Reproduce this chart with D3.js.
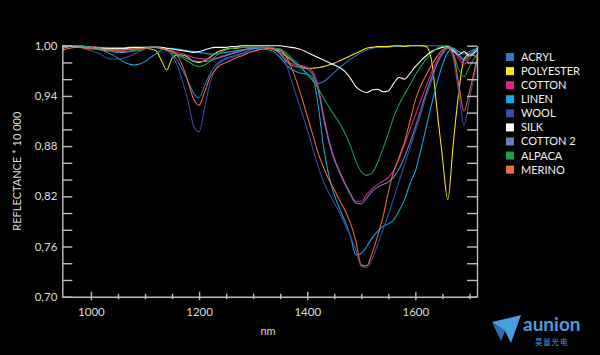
<!DOCTYPE html>
<html><head><meta charset="utf-8">
<script src="https://cdn.jsdelivr.net/npm/d3@7"></script>
<style>html,body{margin:0;padding:0;background:#000;}svg{display:block;font-family:Lato,"Noto Sans",sans-serif;}</style>
</head><body><svg id="c" width="600" height="355"></svg>
<script>
const wavelengths = [947,960,970,980,990,1000,1010,1020,1030,1040,
1050,1060,1070,1080,1090,1100,1110,1120,1130,1140,
1150,1160,1170,1180,1190,1200,1210,1220,1230,1240,
1250,1260,1270,1280,1290,1300,1310,1320,1330,1340,
1350,1360,1370,1380,1390,1400,1410,1420,1430,1440,
1450,1460,1470,1480,1490,1500,1510,1520,1530,1540,
1550,1560,1570,1580,1590,1600,1610,1620,1630,1640,
1650,1660,1670,1680,1690,1700,1714];

const seriesNames = ["ACRYL","POLYESTER","COTTON","LINEN","WOOL","SILK","COTTON 2","ALPACA","MERINO"];
const seriesColors = ["#2f78c0","#f5ea14","#e2238c","#14a9e6","#3b4ea3","#ffffff","#6b7fc4","#18a34a","#f26a3c"];

const acryl = [0.998,0.999,1.0,1.0,0.999,0.999,0.998,0.998,0.997,0.997,
0.997,0.997,0.996,0.996,0.997,0.997,0.998,0.998,0.997,0.994,
0.99,0.982,0.97,0.957,0.943,0.938,0.952,0.966,0.976,0.982,
0.985,0.987,0.989,0.991,0.994,0.996,0.997,0.998,0.998,0.997,
0.996,0.992,0.986,0.98,0.974,0.966,0.959,0.955,0.957,0.962,
0.968,0.974,0.979,0.984,0.988,0.992,0.995,0.997,0.998,0.998,
0.998,0.999,0.999,1.0,1.0,1.0,1.0,1.0,1.0,1.0,
1.0,1.0,0.997,0.99,0.984,0.99,0.996];

const polyester = [0.997,0.999,1.0,1.0,0.999,0.998,0.998,0.997,0.997,0.997,
0.997,0.997,0.998,0.998,0.997,0.997,0.996,0.994,0.983,0.971,
0.985,0.989,0.989,0.986,0.981,0.98,0.982,0.986,0.991,0.994,
0.996,0.997,0.997,0.998,0.998,0.998,0.998,0.997,0.997,0.995,
0.993,0.988,0.983,0.978,0.975,0.973,0.973,0.974,0.975,0.977,
0.979,0.982,0.985,0.988,0.991,0.994,0.997,0.998,0.999,0.999,
0.999,1.0,1.0,0.999,1.0,1.0,1.0,0.999,0.982,0.924,
0.867,0.816,0.882,0.943,0.984,0.99,0.986];

const cotton = [0.998,0.999,1.0,1.0,0.999,0.999,0.998,0.997,0.996,0.995,
0.995,0.995,0.995,0.996,0.997,0.998,0.998,0.998,0.997,0.996,
0.994,0.992,0.99,0.988,0.986,0.985,0.984,0.984,0.985,0.987,
0.989,0.991,0.993,0.995,0.996,0.997,0.998,0.998,0.997,0.995,
0.991,0.984,0.979,0.977,0.976,0.974,0.969,0.952,0.918,0.888,
0.866,0.85,0.836,0.823,0.814,0.814,0.822,0.829,0.834,0.838,
0.843,0.851,0.865,0.882,0.9,0.917,0.935,0.952,0.968,0.982,
0.993,0.998,0.995,0.985,0.978,0.985,0.995];

const linen = [0.999,1.0,1.0,0.999,0.999,0.998,0.997,0.995,0.992,0.989,
0.985,0.981,0.978,0.977,0.978,0.981,0.986,0.99,0.995,0.997,
0.997,0.996,0.995,0.994,0.993,0.992,0.991,0.99,0.99,0.991,
0.992,0.993,0.994,0.995,0.996,0.997,0.997,0.996,0.995,0.992,
0.986,0.978,0.972,0.969,0.967,0.966,0.962,0.93,0.88,0.845,
0.822,0.805,0.79,0.772,0.75,0.752,0.76,0.77,0.778,0.784,
0.787,0.792,0.803,0.816,0.835,0.85,0.875,0.902,0.93,0.955,
0.977,0.992,0.997,0.993,0.99,0.993,0.997];

const wool = [0.999,1.0,1.0,0.998,0.996,0.994,0.992,0.989,0.985,0.984,
0.984,0.985,0.987,0.99,0.993,0.996,0.998,0.999,0.998,0.996,
0.988,0.976,0.956,0.933,0.904,0.897,0.925,0.955,0.972,0.98,
0.984,0.986,0.988,0.99,0.992,0.994,0.996,0.997,0.998,0.997,
0.994,0.98,0.96,0.94,0.92,0.9,0.878,0.856,0.838,0.824,
0.812,0.8,0.786,0.772,0.756,0.736,0.735,0.745,0.762,0.78,
0.798,0.818,0.838,0.858,0.878,0.898,0.918,0.94,0.958,0.978,
0.992,0.997,0.985,0.945,0.905,0.935,0.98];

const silk = [1.0,1.0,0.999,0.999,0.998,0.998,0.997,0.997,0.997,0.997,
0.997,0.997,0.997,0.998,0.998,0.998,0.998,0.998,0.998,0.997,
0.996,0.995,0.994,0.993,0.992,0.993,0.995,0.997,0.998,0.998,
0.998,0.999,0.999,1.0,1.0,1.0,1.0,1.0,1.0,1.0,
1.0,0.999,0.998,0.997,0.995,0.992,0.989,0.986,0.983,0.98,
0.977,0.974,0.969,0.961,0.951,0.946,0.944,0.947,0.948,0.945,
0.946,0.955,0.962,0.96,0.967,0.975,0.982,0.988,0.993,0.996,
0.998,0.999,0.994,0.989,0.993,0.988,0.995];

const cotton2 = [0.997,0.999,1.0,0.999,0.998,0.997,0.996,0.995,0.994,0.993,
0.992,0.992,0.993,0.994,0.995,0.997,0.998,0.998,0.997,0.995,
0.992,0.99,0.987,0.984,0.982,0.981,0.981,0.982,0.984,0.986,
0.988,0.99,0.992,0.994,0.996,0.997,0.998,0.998,0.997,0.995,
0.99,0.982,0.977,0.975,0.974,0.972,0.966,0.948,0.914,0.885,
0.864,0.848,0.834,0.822,0.812,0.811,0.818,0.826,0.831,0.834,
0.837,0.843,0.853,0.867,0.884,0.903,0.923,0.944,0.962,0.978,
0.99,0.997,0.996,0.988,0.982,0.988,0.996];

const alpaca = [0.999,1.0,1.0,1.0,0.999,0.998,0.997,0.996,0.995,0.994,
0.993,0.993,0.993,0.994,0.995,0.997,0.998,0.998,0.997,0.995,
0.992,0.988,0.985,0.981,0.977,0.975,0.977,0.981,0.987,0.992,
0.995,0.997,0.998,0.998,0.998,0.998,0.998,0.998,0.997,0.996,
0.996,0.99,0.984,0.978,0.972,0.966,0.958,0.949,0.938,0.927,
0.917,0.907,0.895,0.88,0.862,0.849,0.845,0.848,0.86,0.877,
0.895,0.915,0.93,0.942,0.953,0.965,0.975,0.984,0.991,0.997,
0.999,0.998,0.99,0.972,0.963,0.975,0.99];

const merino = [0.995,0.997,0.998,0.998,0.997,0.996,0.996,0.995,0.995,0.995,
0.995,0.995,0.996,0.996,0.997,0.997,0.998,0.998,0.997,0.995,
0.994,0.988,0.975,0.956,0.936,0.929,0.944,0.962,0.971,0.977,
0.98,0.983,0.986,0.988,0.991,0.993,0.995,0.996,0.997,0.996,
0.995,0.988,0.975,0.958,0.938,0.916,0.894,0.872,0.855,0.84,
0.828,0.815,0.803,0.788,0.766,0.738,0.737,0.752,0.772,0.795,
0.825,0.85,0.867,0.885,0.91,0.935,0.952,0.965,0.977,0.987,
0.995,0.998,0.99,0.955,0.922,0.945,0.985];

const seriesValues = [acryl, polyester, cotton, linen, wool, silk, cotton2, alpaca, merino];

const yMajorTicks = [1.00, 0.94, 0.88, 0.82, 0.76, 0.70];
const yTickLabels = ["1,00","0,94","0,88","0,82","0,76","0,70"];
const yMinorTicks = [1.00,0.98,0.96,0.94,0.92,0.90,0.88,0.86,0.84,0.82,0.80,0.78,0.76,0.74,0.72,0.70];
const xMajorTicks = [1000, 1200, 1400, 1600];
const xTickLabels = ["1000","1200","1400","1600"];
const xMinorTicks = [1050,1100,1150,1250,1300,1350,1450,1500,1550,1650,1700];

const svg = d3.select("#c");
svg.append("rect").attr("width",600).attr("height",355).attr("fill","#000");

const L = 62.3, R = 477, T = 45.7, B = 296.7;
const x = d3.scaleLinear().domain([947, 1714]).range([L, R]);
const y = d3.scaleLinear().domain([0.70, 1.00]).range([B, T]);
const axisColor = "#bdbdbd", textColor = "#dcdcdc";

// series lines
const line = d3.line().x((d,i)=>x(wavelengths[i])).y(d=>y(d)).curve(d3.curveMonotoneX);
const lines = svg.append("g");
seriesValues.forEach((vals, k) => {
  lines.append("path").attr("d", line(vals)).attr("fill","none")
    .attr("stroke", seriesColors[k]).attr("stroke-width", 1.05).attr("stroke-linejoin","round");
});

function styleAxis(g){
  g.selectAll("path.domain").attr("stroke", axisColor).attr("stroke-width", 1.4);
  g.selectAll(".tick line").attr("stroke", axisColor).attr("stroke-width", 1.4);
  g.selectAll(".tick text").attr("fill", textColor).attr("font-size", 11.5).attr("font-family","Lato, sans-serif");
}

// left axis
const gl = svg.append("g").attr("transform", `translate(${L},0)`);
gl.call(d3.axisLeft(y).tickValues(yMinorTicks).tickSize(-10).tickSizeOuter(0).tickFormat(""));
styleAxis(gl);
const glm = svg.append("g").attr("transform", `translate(${L},0)`);
glm.call(d3.axisLeft(y).tickValues(yMajorTicks).tickSize(0).tickPadding(5).tickFormat((d,i)=>yTickLabels[i]));
glm.select("path.domain").remove();
styleAxis(glm);

// right axis
const gr = svg.append("g").attr("transform", `translate(${R},0)`);
gr.call(d3.axisRight(y).tickValues(yMinorTicks).tickSize(-10).tickSizeOuter(0).tickFormat(""));
styleAxis(gr);

// bottom axis
const gb = svg.append("g").attr("transform", `translate(0,${B})`);
gb.call(d3.axisBottom(x).tickValues(xMajorTicks).tickSizeOuter(0).tickFormat((d,i)=>xTickLabels[i]));
styleAxis(gb);
gb.selectAll(".tick line").attr("y1", -5).attr("y2", 3.5);
gb.selectAll(".tick text").attr("y", 11).attr("dy", "0.71em");
const gbm = svg.append("g").attr("transform", `translate(0,${B})`);
gbm.call(d3.axisBottom(x).tickValues(xMinorTicks).tickSizeOuter(0).tickFormat(""));
gbm.select("path.domain").remove();
styleAxis(gbm);
gbm.selectAll(".tick line").attr("y1", -3).attr("y2", 2.5);

// axis titles
svg.append("text").attr("x", 268).attr("y", 335).attr("text-anchor","middle")
  .attr("fill", textColor).attr("font-size", 11).text("nm");
svg.append("text").attr("transform", `translate(21,${(T+B)/2}) rotate(-90)`)
  .attr("text-anchor","middle").attr("fill", textColor).attr("font-size", 11)
  .text("REFLECTANCE * 10 000");

// legend
const lg = svg.append("g").attr("transform","translate(506,57)");
seriesNames.forEach((n,k)=>{
  const row = lg.append("g").attr("transform",`translate(0,${k*14.08})`);
  row.append("rect").attr("x",0).attr("y",-4).attr("width",8).attr("height",8).attr("fill",seriesColors[k]);
  row.append("text").attr("x",15).attr("y",4).attr("fill","#f2f2f2").attr("font-size",11).text(n);
});

// logo
const logoColor = "#4a9de0";
const lo = svg.append("g");
lo.append("path").attr("d","M492,322 L521,315 L511,343 L505,331 Z").attr("fill", logoColor);
lo.append("path").attr("d","M492,322 L505,331 L501,341 Z").attr("fill", "#2a6fb4");
lo.append("text").attr("x",523).attr("y",331).attr("fill",logoColor).attr("font-size",19)
  .attr("font-weight","bold").attr("font-family","Lato, sans-serif").text("aunion");
lo.append("text").attr("x",535).attr("y",345).attr("fill",logoColor).attr("font-size",7.5)
  .attr("font-family","'Noto Sans CJK SC', sans-serif").attr("letter-spacing",0.8).text("昊量光电");
</script></body></html>
